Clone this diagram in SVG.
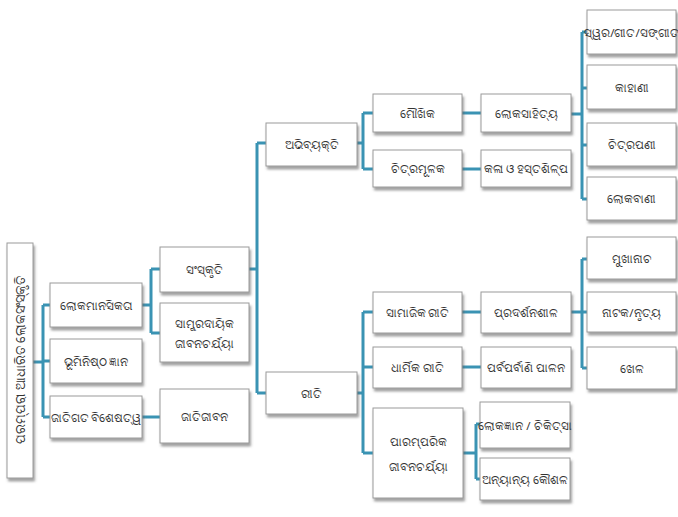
<svg xmlns="http://www.w3.org/2000/svg" width="678" height="517" viewBox="0 0 678 517">
<style>
.b{fill:#fff;stroke:#9a9a9a;stroke-width:1;filter:url(#sh)}
.t{font-family:"Noto Sans","DejaVu Sans",sans-serif;font-size:11.5px;fill:#333;text-anchor:middle;dominant-baseline:central}
.r{font-size:13px}
.c{fill:none;stroke:#3a93b3;stroke-width:3}
</style>
<defs>
<filter id="sh" x="-10%" y="-10%" width="130%" height="140%">
<feDropShadow dx="1.5" dy="3" stdDeviation="1.3" flood-color="#666" flood-opacity="0.6"/>
</filter>
</defs>
<rect width="678" height="517" fill="#fff"/>
<g id="connectors">
<path class="c" d="M33,362H43M43,305V417M43,305H50M43,361H50M43,417H50"/>
<path class="c" d="M142,305H151M151,269V333M151,269H160M151,333H160M142,417H160"/>
<path class="c" d="M249,269H257M257,143V393M257,143H266M257,393H266"/>
<path class="c" d="M357,143H363M363,113V169M363,113H373M363,169H373"/>
<path class="c" d="M462,113H481M462,169H481"/>
<path class="c" d="M571,114H582M582,32V199M582,32H587M582,88H587M582,145H587M582,199H587"/>
<path class="c" d="M357,393H363M363,312V453M363,312H373M363,367H373M363,453H373"/>
<path class="c" d="M462,312H481M462,367H481"/>
<path class="c" d="M463,453H476M476,424V479M476,424H480M476,479H480"/>
<path class="c" d="M571,312H582M582,259V368M582,259H587M582,312H587M582,368H587"/>
</g>
<g id="root"><rect class="b" x="7" y="243" width="26" height="235"/><text class="t r" transform="translate(20,360) rotate(-90)">ପରମ୍ପରା ଆଧାରିତ ଲୋକସଂସ୍କୃତି</text></g>
<g id="n1"><rect class="b" x="50" y="283" width="92" height="44"/><text class="t" x="96" y="305">ଲୋକମାନସିକତା</text></g>
<g id="n2"><rect class="b" x="50" y="339" width="92" height="44"/><text class="t" x="96" y="361">ଭୂମିନିଷ୍ଠ ଜ୍ଞାନ</text></g>
<g id="n3"><rect class="b" x="50" y="396" width="92" height="42"/><text class="t" x="96" y="417">ଜାତିଗତ ବିଶେଷତ୍ୱ</text></g>
<g id="n4"><rect class="b" x="160" y="247" width="89" height="45"/><text class="t" x="204.5" y="269.5">ସଂସ୍କୃତି</text></g>
<g id="n5"><rect class="b" x="160" y="303" width="89" height="59"/><text class="t" x="204.5" y="323">ସାମ୍ପ୍ରଦାୟିକ</text><text class="t" x="204.5" y="343">ଜୀବନଚର୍ଯ୍ୟା</text></g>
<g id="n6"><rect class="b" x="160" y="389" width="89" height="54"/><text class="t" x="204.5" y="416">ଜାତିଜୀବନ</text></g>
<g id="n7"><rect class="b" x="266" y="123" width="91" height="43"/><text class="t" x="311.5" y="144.5">ଅଭିବ୍ୟକ୍ତି</text></g>
<g id="n8"><rect class="b" x="266" y="372" width="91" height="42"/><text class="t" x="311.5" y="393">ରୀତି</text></g>
<g id="n9"><rect class="b" x="373" y="94" width="89" height="38"/><text class="t" x="417.5" y="113">ମୌଖିକ</text></g>
<g id="n10"><rect class="b" x="373" y="150" width="89" height="37"/><text class="t" x="417.5" y="168.5">ଚିତ୍ରମୂଳକ</text></g>
<g id="n11"><rect class="b" x="481" y="94" width="90" height="38"/><text class="t" x="526" y="113">ଲୋକସାହିତ୍ୟ</text></g>
<g id="n12"><rect class="b" x="481" y="150" width="90" height="37"/><text class="t" x="526" y="168.5">କଳା ଓ ହସ୍ତଶିଳ୍ପ</text></g>
<g id="n13"><rect class="b" x="587" y="10" width="89" height="44"/><text class="t" x="631.5" y="32">ସ୍ୱର/ଗୀତ/ସଙ୍ଗୀତ</text></g>
<g id="n14"><rect class="b" x="587" y="65" width="89" height="44"/><text class="t" x="631.5" y="87">କାହାଣୀ</text></g>
<g id="n15"><rect class="b" x="587" y="123" width="89" height="43"/><text class="t" x="631.5" y="144.5">ଚିତ୍ରପଣୀ</text></g>
<g id="n16"><rect class="b" x="587" y="177" width="89" height="43"/><text class="t" x="631.5" y="198.5">ଲୋକବାଣୀ</text></g>
<g id="n17"><rect class="b" x="373" y="292" width="89" height="41"/><text class="t" x="417.5" y="312.5">ସାମାଜିକ ରୀତି</text></g>
<g id="n18"><rect class="b" x="373" y="347" width="89" height="41"/><text class="t" x="417.5" y="367.5">ଧାର୍ମିକ ରୀତି</text></g>
<g id="n19"><rect class="b" x="373" y="408" width="90" height="90"/><text class="t" x="418" y="441">ପାରମ୍ପରିକ</text><text class="t" x="418" y="466">ଜୀବନଚର୍ଯ୍ୟା</text></g>
<g id="n20"><rect class="b" x="481" y="292" width="90" height="41"/><text class="t" x="526" y="312.5">ପ୍ରଦର୍ଶନଶୀଳ</text></g>
<g id="n21"><rect class="b" x="481" y="347" width="90" height="41"/><text class="t" x="526" y="367.5">ପର୍ବପର୍ବାଣି ପାଳନ</text></g>
<g id="n22"><rect class="b" x="480" y="402" width="90" height="46"/><text class="t" x="525" y="425">ଲୋକଜ୍ଞାନ / ଚିକିତ୍ସା</text></g>
<g id="n23"><rect class="b" x="480" y="458" width="90" height="42"/><text class="t" x="525" y="479">ଅନ୍ୟାନ୍ୟ କୌଶଳ</text></g>
<g id="n24"><rect class="b" x="587" y="237" width="89" height="42"/><text class="t" x="631.5" y="258">ମୁଖାନାଚ</text></g>
<g id="n25"><rect class="b" x="587" y="292" width="89" height="40"/><text class="t" x="631.5" y="312">ନାଟକ/ନୃତ୍ୟ</text></g>
<g id="n26"><rect class="b" x="587" y="347" width="89" height="42"/><text class="t" x="631.5" y="368">ଖେଳ</text></g>
</svg>
